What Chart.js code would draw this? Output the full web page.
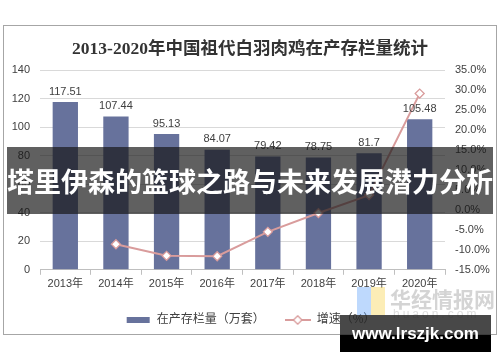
<!DOCTYPE html>
<html><head><meta charset="utf-8">
<script src="https://cdn.jsdelivr.net/npm/chart.js@4/dist/chart.umd.min.js"></script>
<style>
body{margin:0;background:#fff;}
#wrap{position:relative;width:500px;height:362px;overflow:hidden;}
#c{position:absolute;left:0;top:0;}
#banner{position:absolute;left:7px;top:147px;width:486px;height:67px;background:rgba(20,20,20,0.68);color:#fff;
 font-family:'Noto Sans CJK SC',sans-serif;font-weight:bold;font-size:27px;line-height:67px;text-align:center;white-space:nowrap;letter-spacing:0px;}
#wm{position:absolute;left:390px;top:283px;font-family:'Noto Sans CJK SC',sans-serif;font-weight:bold;font-size:21px;color:rgba(160,160,160,0.45);white-space:nowrap;}
#wm2{position:absolute;left:393px;top:307px;font-family:'Liberation Sans',sans-serif;font-size:12px;letter-spacing:3px;color:rgba(170,170,170,0.4);}
#logo1{position:absolute;left:357px;top:287px;width:14px;height:28px;background:rgba(110,170,250,0.45);}
#logo2{position:absolute;left:371px;top:287px;width:14px;height:28px;background:rgba(250,220,110,0.5);}
#site{position:absolute;left:340px;top:315px;width:151px;height:37px;}
#site .g{position:absolute;left:0;top:0;width:151px;height:20px;background:rgba(40,40,40,0.85);}
#site .b{position:absolute;left:0;top:20px;width:151px;height:17px;background:#000;}
#site .t{position:absolute;left:0;top:0;width:151px;height:37px;line-height:37px;text-align:center;color:#fff;
 font-family:'Liberation Sans',sans-serif;font-weight:bold;font-size:17px;}
</style></head>
<body><div id="wrap"><canvas id="c" width="500" height="362"></canvas>
<div id="logo1"></div><div id="logo2"></div>
<div id="wm">华经情报网</div><div id="wm2">huaon.com</div>
<div id="banner">塔里伊森的篮球之路与未来发展潜力分析</div>
<div id="site"><div class="g"></div><div class="b"></div><div class="t">www.lrszjk.com</div></div>
</div>
<script>
const categories = ['2013年','2014年','2015年','2016年','2017年','2018年','2019年','2020年'];
const stockValues = [117.51,107.44,95.13,84.07,79.42,78.75,81.7,105.48];
const growthValues = [null,-8.6,-11.5,-11.6,-5.5,-0.8,3.7,29.1];
const titleText = '2013-2020年中国祖代白羽肉鸡在产存栏量统计';
const barLabel = '在产存栏量（万套）';
const lineLabel = '增速（%）';

const BAR = '#67729c', LINE = '#d99c9c';
const fontFam = "'Liberation Sans','Noto Sans CJK SC',sans-serif";

function icon(kind){
  const c = document.createElement('canvas');
  c.width = 26; c.height = 10;
  const x = c.getContext('2d');
  if (kind==='bar'){ x.fillStyle = BAR; x.fillRect(2,2,23,6); }
  else {
    x.strokeStyle = LINE; x.lineWidth = 2;
    x.beginPath(); x.moveTo(0,5); x.lineTo(26,5); x.stroke();
    x.fillStyle='#fff'; x.lineWidth=1.3;
    x.beginPath(); x.moveTo(13,0.8); x.lineTo(17.2,5); x.lineTo(13,9.2); x.lineTo(8.8,5); x.closePath(); x.fill(); x.stroke();
  }
  return c;
}
const barIcon = icon('bar'), lineIcon = icon('line');

const framePlugin = {
  id:'frame',
  beforeDraw(chart){
    const ctx = chart.ctx; ctx.save();
    ctx.fillStyle='#fff'; ctx.fillRect(0,0,500,362);
    ctx.strokeStyle='#a6a6a6'; ctx.lineWidth=1;
    ctx.strokeRect(3.5,25.5,493,309);
    ctx.restore();
  }
};
const labelPlugin = {
  id:'barLabels',
  afterDatasetsDraw(chart){
    const ctx = chart.ctx;
    const meta = chart.getDatasetMeta(1);
    ctx.save();
    ctx.font = '11px ' + fontFam; ctx.fillStyle='#404040';
    ctx.textAlign='center'; ctx.textBaseline='bottom';
    meta.data.forEach((el,i)=>{ ctx.fillText(String(stockValues[i]), el.x, el.y-5); });
    ctx.restore();
  }
};

new Chart(document.getElementById('c'), {
  data:{
    labels: categories,
    datasets:[
      {type:'line', label: lineLabel, data: growthValues, yAxisID:'y1', order:0,
       borderColor: LINE, borderWidth:2, tension:0, spanGaps:false,
       pointStyle:'rectRot', pointRadius:4.5, pointBackgroundColor:'#fff', pointBorderColor: LINE, pointBorderWidth:1.3},
      {type:'bar', label: barLabel, data: stockValues, yAxisID:'y', order:1,
       backgroundColor: BAR, categoryPercentage:1, barPercentage:0.5}
    ]
  },
  options:{
    responsive:false, animation:false, devicePixelRatio:1,
    layout:{padding:{left:5,right:5,top:0,bottom:26}},
    plugins:{
      tooltip:{enabled:false},
      title:{display:true, text:titleText, color:'#333',
        font:{size:17.5, weight:'bold', family:"'Liberation Serif','Noto Sans CJK SC',serif"},
        padding:{top:39,bottom:10}},
      legend:{position:'bottom',
        labels:{usePointStyle:true, pointStyleWidth:26, padding:20, color:'#404040',
          font:{size:12, family:fontFam},
          generateLabels(){ return [
            {text: barLabel, pointStyle: barIcon, fillStyle:BAR, strokeStyle:BAR, lineWidth:0, datasetIndex:1, hidden:false, fontColor:'#404040'},
            {text: lineLabel, pointStyle: lineIcon, fillStyle:'#fff', strokeStyle:LINE, lineWidth:0, datasetIndex:0, hidden:false, fontColor:'#404040'}
          ];}
        }}
    },
    scales:{
      x:{grid:{display:true, drawOnChartArea:false, tickLength:5, color:'#bfbfbf', offset:true},
         border:{color:'#bfbfbf'},
         ticks:{color:'#404040', font:{size:11, family:fontFam}, padding:3}},
      y:{position:'left', min:0, max:140,
         ticks:{stepSize:20, color:'#404040', font:{size:11, family:fontFam}, padding:10},
         grid:{color:'#d9d9d9', drawTicks:false}, border:{display:false},
         afterFit(s){ s.width = 35; }},
      y1:{position:'right', min:-15, max:35,
         ticks:{stepSize:5, color:'#404040', font:{size:11, family:fontFam}, padding:10,
           callback:(v)=> v.toFixed(1)+'%'},
         grid:{display:false, drawTicks:false}, border:{display:false},
         afterFit(s){ s.width = 50; }}
    }
  },
  plugins:[framePlugin, labelPlugin]
});
</script></body></html>
